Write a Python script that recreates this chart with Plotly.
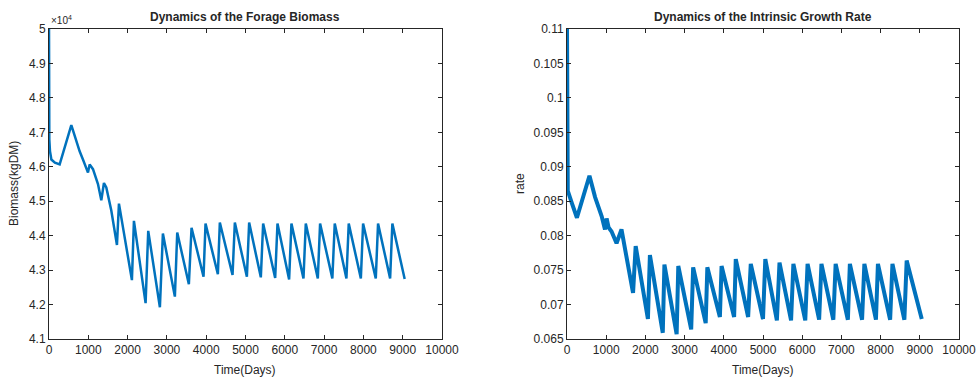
import plotly.graph_objects as go

# ---------------- data ----------------
bio_t = [0, 2, 8, 25, 60, 150, 271, 568, 700, 780, 864, 992, 1034, 1119, 1246, 1331, 1398, 1458,
         1585, 1729, 1780, 2110, 2161, 2458, 2525, 2822, 2898, 3203, 3263, 3559, 3627, 3932, 3983,
         4297, 4347, 4670, 4729, 5035, 5093, 5390, 5449, 5755, 5814, 6110, 6169, 6475, 6534,
         6840, 6898, 7210, 7271, 7568, 7627, 7935, 7992, 8315, 8373, 8680, 8737, 9050]
bio_v = [50000, 48000, 46800, 46450, 46210, 46120, 46070, 47210, 46700, 46450, 46210, 45830,
         46070, 45930, 45500, 45030, 45530, 45400, 44730, 43730, 44930, 42710, 44430, 42040,
         44140, 41920, 44060, 42230, 44090, 42590, 44230, 42810, 44350, 42880, 44380, 42860,
         44380, 42810, 44380, 42790, 44350, 42770, 44350, 42730, 44350, 42760, 44350, 42760,
         44350, 42760, 44350, 42760, 44350, 42760, 44350, 42760, 44350, 42760, 44350, 42740]

rate_t = [0, 3, 20, 126, 253, 573, 716, 885, 969, 1011, 1060, 1137, 1222, 1264, 1390, 1685, 1752,
          2064, 2115, 2443, 2485, 2797, 2839, 3168, 3218, 3538, 3580, 3900, 3943, 4263, 4305,
          4621, 4688, 5000, 5059, 5354, 5421, 5716, 5775, 6078, 6137, 6432, 6491, 6794, 6853,
          7165, 7216, 7527, 7586, 7881, 7932, 8243, 8302, 8606, 8665, 9050]
rate_v = [0.11, 0.088, 0.0865, 0.0847, 0.0826, 0.0887, 0.0856, 0.0828, 0.0809, 0.0825, 0.0812,
          0.0806, 0.0796, 0.0789, 0.0809, 0.0717, 0.0785, 0.0679, 0.0772, 0.0659, 0.0758, 0.0657,
          0.0756, 0.0664, 0.0754, 0.0673, 0.0754, 0.0682, 0.0756, 0.0682, 0.0766, 0.0682, 0.0759,
          0.0679, 0.0766, 0.0677, 0.0761, 0.0677, 0.0759, 0.0677, 0.0759, 0.0678, 0.0759, 0.0678,
          0.0759, 0.0678, 0.0759, 0.0678, 0.0759, 0.0678, 0.0759, 0.0678, 0.0759, 0.0678, 0.0764,
          0.0679]

x_ticks = [0, 1000, 2000, 3000, 4000, 5000, 6000, 7000, 8000, 9000, 10000]
x_ticktext = ["0", "1000", "2000", "3000", "4000", "5000", "6000", "7000", "8000", "9000", "10000"]
bio_ticks = [41000, 42000, 43000, 44000, 45000, 46000, 47000, 48000, 49000, 50000]
bio_ticktext = ["4.1", "4.2", "4.3", "4.4", "4.5", "4.6", "4.7", "4.8", "4.9", "5"]
rate_ticks = [0.065, 0.07, 0.075, 0.08, 0.085, 0.09, 0.095, 0.1, 0.105, 0.11]
rate_ticktext = ["0.065", "0.07", "0.075", "0.08", "0.085", "0.09", "0.095", "0.1", "0.105", "0.11"]

W, H = 977, 379
FONT = "Liberation Sans, Arial, Helvetica, sans-serif"
DARK = "#262626"
BLUE = "#0072BD"

fig = go.Figure()
fig.add_trace(go.Scatter(x=bio_t, y=bio_v, mode="lines", line=dict(color=BLUE, width=2.5),
                         xaxis="x", yaxis="y", showlegend=False))
fig.add_trace(go.Scatter(x=rate_t, y=rate_v, mode="lines", line=dict(color=BLUE, width=4),
                         xaxis="x2", yaxis="y2", showlegend=False))

def px_x(p):
    return p / W

def px_y(p):
    return 1 - p / H

ax_common = dict(showline=True, linecolor=DARK, linewidth=1, mirror="ticks", ticks="inside",
                 ticklen=4, tickcolor=DARK, tickwidth=1, showgrid=False, zeroline=False,
                 automargin=False, tickfont=dict(family=FONT, size=12, color=DARK))

fig.update_layout(
    width=W, height=H, margin=dict(l=0, r=0, t=0, b=0, pad=0, autoexpand=False),
    plot_bgcolor="white", paper_bgcolor="white",
    xaxis=dict(domain=[px_x(49), px_x(442)], range=[0, 10000], tickvals=x_ticks,
               ticktext=x_ticktext, anchor="y", **ax_common),
    yaxis=dict(domain=[px_y(339), px_y(29)], range=[41000, 50000], tickvals=bio_ticks,
               ticktext=bio_ticktext, anchor="x", **ax_common),
    xaxis2=dict(domain=[px_x(567), px_x(959)], range=[0, 10000], tickvals=x_ticks,
                ticktext=x_ticktext, anchor="y2", **ax_common),
    yaxis2=dict(domain=[px_y(339), px_y(29)], range=[0.065, 0.11], tickvals=rate_ticks,
                ticktext=rate_ticktext, anchor="x2", **ax_common),
)

ann = [
    dict(text="<b>Dynamics of the Forage Biomass</b>", x=px_x(245.5), y=px_y(17), size=12),
    dict(text="<b>Dynamics of the Intrinsic Growth Rate</b>", x=px_x(763), y=px_y(17), size=12),
    dict(text="Time(Days)", x=px_x(245.5), y=px_y(370), size=12),
    dict(text="Time(Days)", x=px_x(763), y=px_y(370), size=12),
    dict(text="Biomass(kgDM)", x=px_x(14), y=px_y(184), size=12, angle=-90),
    dict(text="rate", x=px_x(520), y=px_y(184), size=12, angle=-90),
]
for a in ann:
    fig.add_annotation(text=a["text"], x=a["x"], y=a["y"], xref="paper", yref="paper",
                       showarrow=False, xanchor="center", yanchor="middle",
                       textangle=a.get("angle", 0),
                       font=dict(family=FONT, size=a["size"], color=DARK))
fig.add_annotation(text="×10<sup>4</sup>", x=px_x(49), y=px_y(20), xref="paper", yref="paper",
                   showarrow=False, xanchor="left", yanchor="middle",
                   font=dict(family=FONT, size=10, color=DARK))

fig.write_html("out.html")
